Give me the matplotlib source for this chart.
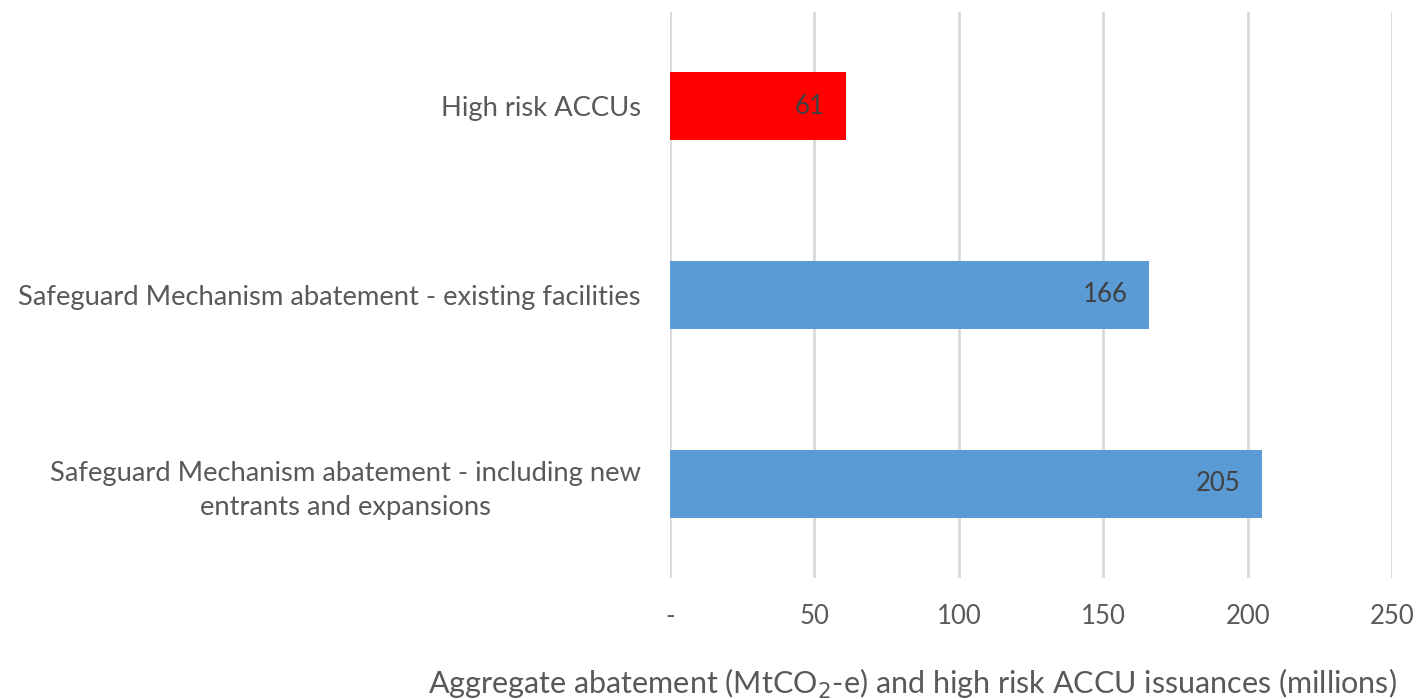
import matplotlib
matplotlib.use("Agg")
import matplotlib.pyplot as plt

categories = [
    "High risk ACCUs",
    "Safeguard Mechanism abatement - existing facilities",
    "Safeguard Mechanism abatement - including new\nentrants and expansions",
]
values = [61, 166, 205]
colors = ["#FF0000", "#5B9BD5", "#5B9BD5"]
xticks = [0, 50, 100, 150, 200, 250]
xtick_labels = ["-", "50", "100", "150", "200", "250"]

plt.rcParams["font.family"] = ["Lato", "DejaVu Sans"]
text_color = "#595959"

fig = plt.figure(figsize=(14.16, 6.99), dpi=100)
ax = fig.add_axes([670 / 1416, 1 - 578 / 699, 722 / 1416, 566 / 699])

ypos = list(range(len(categories)))
bars = ax.barh(ypos, values, height=0.36, color=colors, zorder=3)

for bar, v in zip(bars, values):
    ax.text(bar.get_width() - 7.3, bar.get_y() + bar.get_height() / 2, f"{v}",
            ha="right", va="center", fontsize=18.5, color="#404040", zorder=4)

ax.set_ylim(2.5, -0.5)
ax.set_xlim(0, 250)
ax.set_yticks(ypos)
ax.set_yticklabels(categories, fontsize=19.7, color=text_color)
for lbl in ax.get_yticklabels():
    lbl.set_multialignment("center")
    lbl.set_linespacing(1.45)
ax.tick_params(axis="y", length=0, pad=21)

ax.set_xticks(xticks)
ax.set_xticklabels(xtick_labels, fontsize=18.5, color=text_color)
ax.tick_params(axis="x", length=0, pad=19)

ax.grid(axis="x", color="#D9D9D9", linewidth=2, zorder=0)
for s in ax.spines.values():
    s.set_visible(False)

fig.text(912 / 1416, 1 - 684 / 699,
         "Aggregate abatement (MtCO$_2$-e) and high risk ACCU issuances (millions)",
         fontsize=22, color=text_color, ha="center", va="center")

fig.savefig("out.png", dpi=100, facecolor="white")
